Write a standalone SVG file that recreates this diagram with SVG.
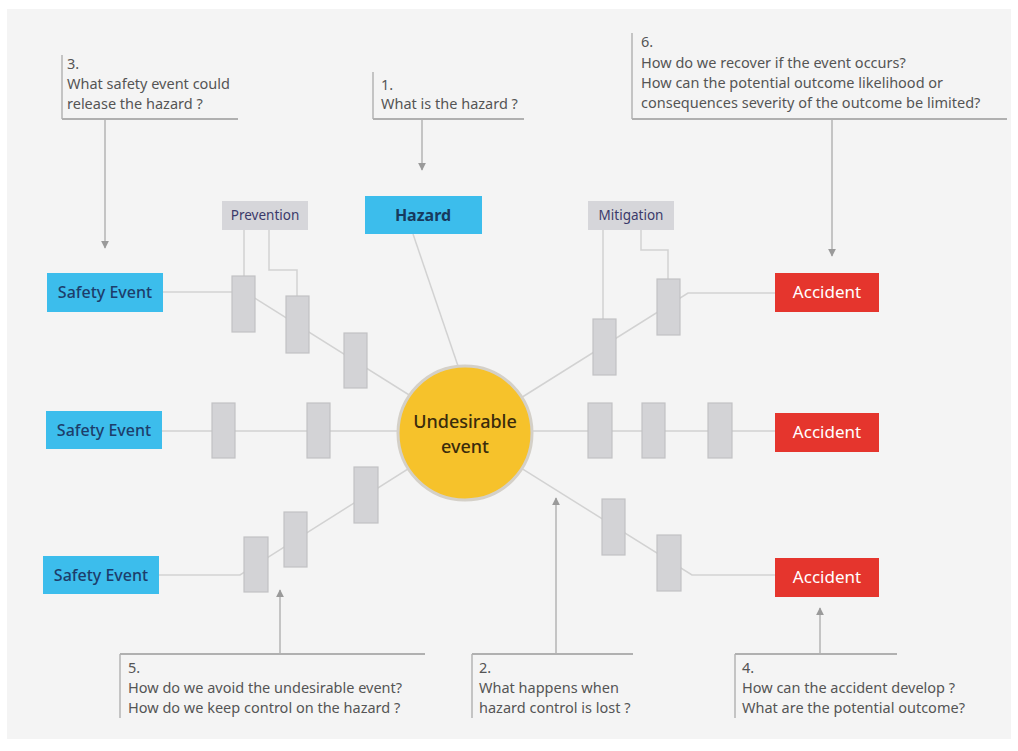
<svg xmlns="http://www.w3.org/2000/svg" width="1018" height="751" viewBox="0 0 1018 751">
<defs>
<style>
.bg{fill:#f4f4f4}
.conn{fill:none;stroke:#d2d2d2;stroke-width:1.5}
.call{fill:none;stroke:#b4b4b4;stroke-width:1.5}
.callh{fill:none;stroke:#b0b0b0;stroke-width:2}
.bar{fill:#d3d3d6;stroke:#c2c2c4;stroke-width:1.2}
.se{fill:#3cbdec}
.acc{fill:#e5352d}
.lbl{fill:#d6d6da}
.t{font-family:"Noto Sans","Liberation Sans",sans-serif}
.se-t{font-size:16px;fill:#1d3d6b;text-anchor:middle;font-weight:500}
.acc-t{font-size:17px;fill:#ffffff;text-anchor:middle}
.lbl-t{font-size:13.5px;fill:#3b3a6a;text-anchor:middle}
.q{font-size:14.5px;fill:#555555}
</style>
<marker id="arr" viewBox="0 0 10 10" refX="9" refY="5" markerWidth="8" markerHeight="8" markerUnits="userSpaceOnUse" orient="auto">
<path d="M0,0 L10,5 L0,10 z" fill="#9a9a9a"/>
</marker>
</defs>
<rect x="0" y="0" width="1018" height="751" fill="#ffffff"/>
<rect class="bg" x="7" y="9" width="1004" height="730"/>

<g id="connectors">
<polyline class="conn" points="162,292 245,292 465,430"/>
<line class="conn" x1="162" y1="431" x2="465" y2="431"/>
<polyline class="conn" points="159,575 240,575 465,433"/>
<line class="conn" x1="413" y1="234" x2="458" y2="366"/>
<line class="conn" x1="244" y1="230" x2="244" y2="276"/>
<polyline class="conn" points="269,230 269,270 297,270 297,296"/>
<line class="conn" x1="603" y1="230" x2="603" y2="319"/>
<polyline class="conn" points="641,230 641,250 668,250 668,279"/>
<polyline class="conn" points="465,433 688,293 775,293"/>
<line class="conn" x1="465" y1="431" x2="775" y2="431"/>
<polyline class="conn" points="465,433 692,575 775,575"/>
<line class="call" x1="105" y1="119" x2="105" y2="248" marker-end="url(#arr)"/>
<line class="call" x1="422" y1="119" x2="422" y2="170" marker-end="url(#arr)"/>
<line class="call" x1="832" y1="119" x2="832" y2="256" marker-end="url(#arr)"/>
<line class="call" x1="280" y1="654" x2="280" y2="590" marker-end="url(#arr)"/>
<line class="call" x1="556" y1="654" x2="556" y2="498" marker-end="url(#arr)"/>
<line class="call" x1="820" y1="654" x2="820" y2="608" marker-end="url(#arr)"/>
</g>

<g id="callout-3">
<polyline class="call" points="62,55 62,119"/>
<line class="callh" x1="62" y1="119" x2="238" y2="119"/>
<text class="t q" x="67" y="69">3.</text>
<text class="t q" x="67" y="89">What safety event could</text>
<text class="t q" x="67" y="109">release the hazard ?</text>
</g>
<g id="callout-1">
<polyline class="call" points="373,72 373,119"/>
<line class="callh" x1="373" y1="119" x2="524" y2="119"/>
<text class="t q" x="381" y="90">1.</text>
<text class="t q" x="381" y="109">What is the hazard ?</text>
</g>
<g id="callout-6">
<polyline class="call" points="632,33 632,119"/>
<line class="callh" x1="632" y1="119" x2="1007" y2="119"/>
<text class="t q" x="641" y="47">6.</text>
<text class="t q" x="641" y="68">How do we recover if the event occurs?</text>
<text class="t q" x="641" y="88">How can the potential outcome likelihood or</text>
<text class="t q" x="641" y="108">consequences severity of the outcome be limited?</text>
</g>
<g id="callout-5">
<polyline class="call" points="120,654 120,718"/>
<line class="callh" x1="120" y1="654" x2="425" y2="654"/>
<text class="t q" x="128" y="673">5.</text>
<text class="t q" x="128" y="693">How do we avoid the undesirable event?</text>
<text class="t q" x="128" y="713">How do we keep control on the hazard ?</text>
</g>
<g id="callout-2">
<polyline class="call" points="472,654 472,718"/>
<line class="callh" x1="472" y1="654" x2="633" y2="654"/>
<text class="t q" x="479" y="673">2.</text>
<text class="t q" x="479" y="693">What happens when</text>
<text class="t q" x="479" y="713">hazard control is lost ?</text>
</g>
<g id="callout-4">
<polyline class="call" points="735,654 735,718"/>
<line class="callh" x1="735" y1="654" x2="897" y2="654"/>
<text class="t q" x="742" y="673">4.</text>
<text class="t q" x="742" y="693">How can the accident develop ?</text>
<text class="t q" x="742" y="713">What are the potential outcome?</text>
</g>

<g id="barriers">
<rect class="bar" x="232" y="276" width="23" height="56"/>
<rect class="bar" x="286" y="296" width="23" height="57"/>
<rect class="bar" x="344" y="333" width="23" height="55"/>
<rect class="bar" x="212" y="403" width="23" height="55"/>
<rect class="bar" x="307" y="403" width="23" height="55"/>
<rect class="bar" x="354" y="467" width="24" height="56"/>
<rect class="bar" x="284" y="512" width="23" height="55"/>
<rect class="bar" x="244" y="537" width="24" height="55"/>
<rect class="bar" x="593" y="319" width="23" height="56"/>
<rect class="bar" x="657" y="279" width="23" height="56"/>
<rect class="bar" x="588" y="403" width="24" height="55"/>
<rect class="bar" x="642" y="403" width="23" height="55"/>
<rect class="bar" x="708" y="403" width="24" height="55"/>
<rect class="bar" x="602" y="499" width="23" height="56"/>
<rect class="bar" x="657" y="535" width="24" height="56"/>
</g>

<g id="undesirable-event">
<circle cx="465" cy="433" r="67" fill="#f6c22b" stroke="#d4d0c8" stroke-width="3"/>
<text class="t" x="465" y="428" font-size="18" font-weight="500" fill="#3a2b0c" text-anchor="middle">Undesirable</text>
<text class="t" x="465" y="453" font-size="18" font-weight="500" fill="#3a2b0c" text-anchor="middle">event</text>
</g>

<g id="hazard">
<rect class="se" x="365" y="196" width="117" height="38"/>
<text class="t" x="423" y="221" font-size="16" font-weight="bold" fill="#173a5e" text-anchor="middle">Hazard</text>
</g>
<g id="prevention">
<rect class="lbl" x="222" y="201" width="86" height="29"/>
<text class="t lbl-t" x="265" y="220">Prevention</text>
</g>
<g id="mitigation">
<rect class="lbl" x="588" y="201" width="86" height="29"/>
<text class="t lbl-t" x="631" y="220">Mitigation</text>
</g>

<g id="safety-event-1">
<rect class="se" x="47" y="273" width="116" height="39"/>
<text class="t se-t" x="105" y="298">Safety Event</text>
</g>
<g id="safety-event-2">
<rect class="se" x="46" y="411" width="116" height="38"/>
<text class="t se-t" x="104" y="436">Safety Event</text>
</g>
<g id="safety-event-3">
<rect class="se" x="43" y="556" width="116" height="38"/>
<text class="t se-t" x="101" y="581">Safety Event</text>
</g>

<g id="accident-1">
<rect class="acc" x="775" y="273" width="104" height="39"/>
<text class="t acc-t" x="827" y="298">Accident</text>
</g>
<g id="accident-2">
<rect class="acc" x="775" y="413" width="104" height="39"/>
<text class="t acc-t" x="827" y="438">Accident</text>
</g>
<g id="accident-3">
<rect class="acc" x="775" y="558" width="104" height="39"/>
<text class="t acc-t" x="827" y="583">Accident</text>
</g>
</svg>
